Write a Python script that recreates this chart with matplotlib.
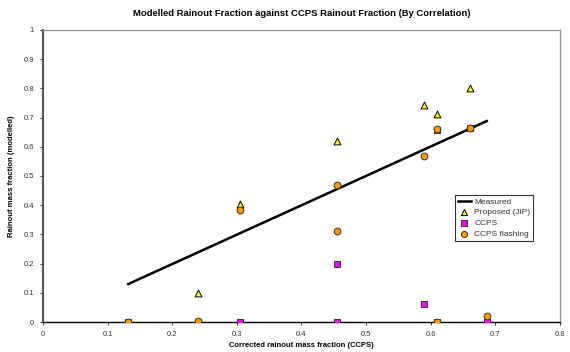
import matplotlib
matplotlib.use("Agg")
import matplotlib.pyplot as plt

plt.rcParams['font.family'] = ['Liberation Sans', 'DejaVu Sans']

# Data
x_ccps = [0.132, 0.24, 0.305, 0.455, 0.455, 0.59, 0.61, 0.61, 0.661, 0.687]
measured_x = [0.132, 0.687]
measured_y = [0.13, 0.688]
jip_x = [0.24, 0.305, 0.455, 0.59, 0.61, 0.661]
jip_y = [0.10, 0.405, 0.618, 0.742, 0.711, 0.80]
ccps_y = [0.0, 0.0, 0.0, 0.20, 0.0, 0.06, 0.658, 0.0, 0.665, 0.0]
flash_y = [0.0, 0.005, 0.385, 0.47, 0.31, 0.57, 0.66, 0.0, 0.665, 0.022]

fig = plt.figure(figsize=(5.7, 3.52), dpi=100)
ax = fig.add_axes([0.0754, 0.0852, 0.9066, 0.8298])

ax.plot(measured_x, measured_y, color='black', lw=1.8, label='Measured', zorder=2)
ax.scatter(jip_x, jip_y, marker='^', s=24, facecolor='#ffff00', edgecolor='black',
           linewidths=0.7, label='Proposed (JIP)', zorder=3)
ax.scatter(x_ccps, ccps_y, marker='s', s=22, facecolor='#ff00ff', edgecolor='#333333',
           linewidths=0.7, label='CCPS', zorder=3)
ax.scatter(x_ccps, flash_y, marker='o', s=24, facecolor='#ff9900', edgecolor='#333333',
           linewidths=0.7, label='CCPS flashing', zorder=4)

ax.set_xlim(0, 0.8)
ax.set_ylim(0, 1)
ax.set_xticks([i / 10 for i in range(9)])
ax.set_yticks([i / 10 for i in range(11)])
ax.set_xticklabels(['0', '0.1', '0.2', '0.3', '0.4', '0.5', '0.6', '0.7', '0.8'])
ax.set_yticklabels(['0', '0.1', '0.2', '0.3', '0.4', '0.5', '0.6', '0.7', '0.8', '0.9', '1'])
ax.tick_params(axis='both', labelsize=5.5, length=2.5, width=0.7, colors='#333333',
               labelcolor='#333333', pad=4)

for s in ['top', 'right']:
    ax.spines[s].set_color('#999999')
    ax.spines[s].set_linewidth(1)
ax.spines['left'].set_color('#555555')
ax.spines['left'].set_linewidth(1.5)
ax.spines['bottom'].set_color('black')
ax.spines['bottom'].set_linewidth(1)

ax.set_title('Modelled Rainout Fraction against CCPS Rainout Fraction (By Correlation)',
             fontsize=6.8, fontweight='bold', pad=10)
ax.set_xlabel('Corrected rainout mass fraction (CCPS)', fontsize=5.5, fontweight='bold', labelpad=3)
ax.set_ylabel('Rainout mass fraction (modelled)', fontsize=5.5, fontweight='bold', labelpad=6)

leg = ax.legend(loc='upper left', bbox_to_anchor=(0.797, 0.435), borderaxespad=0,
                fontsize=6, frameon=True, fancybox=False, edgecolor='black',
                handlelength=1.6, handletextpad=0.4, labelspacing=0.35,
                borderpad=0.35, markerscale=0.9)
leg.get_frame().set_linewidth(0.8)
for t in leg.get_texts():
    t.set_color('#333333')

fig.savefig('out.png', dpi=100)
